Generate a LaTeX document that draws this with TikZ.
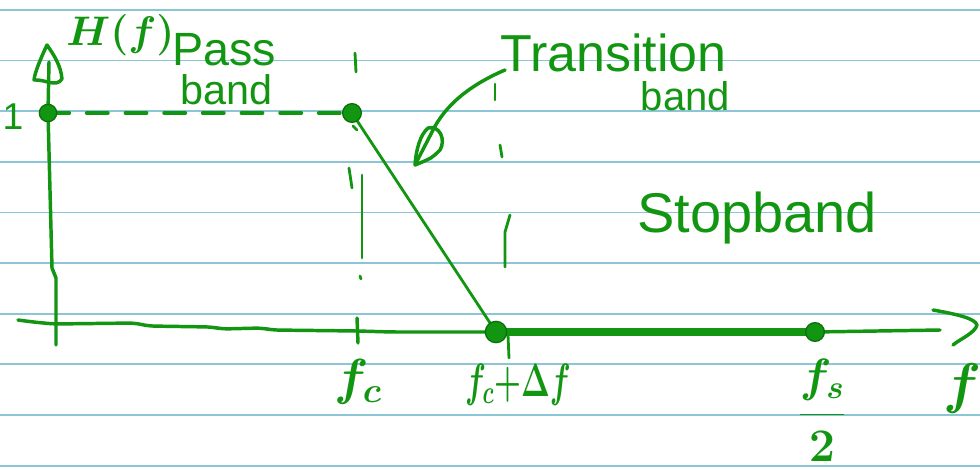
\RequirePackage{fix-cm}
\documentclass[tikz,border=0pt]{standalone}
\usepackage{amsmath}
\usepackage{fontspec}
\setmainfont{Liberation Sans}
\definecolor{ink}{RGB}{18,150,18}
\definecolor{inkdark}{RGB}{10,112,10}
\definecolor{ruling}{RGB}{140,198,214}

\begin{document}
\begin{tikzpicture}[x=0.75pt, y=-0.75pt,
  pen/.style={draw=ink, line width=2.6pt, line cap=round, line join=round},
  thinpen/.style={pen, line width=2.1pt},
  heavy/.style={pen, line width=5.5pt},
  dot/.style={circle, fill=ink, draw=inkdark, line width=1pt, inner sep=0pt, minimum size=#1},
  dot/.default=14pt,
  lbl/.style={text=ink, inner sep=0pt},
  ruled/.style={draw=ruling, line width=1.3pt}]

% sheet of ruled paper
\useasboundingbox (0,0) rectangle (980,470);
\fill[white] (0,0) rectangle (980,470);
\foreach \k in {0,...,9}
  \draw[ruled] (0,{9.8+50.65*\k}) -- (980,{9.8+50.65*\k});

% key points of the response
\coordinate (A) at (48,113);
\coordinate (B) at (352,113);
\coordinate (C) at (496,332);
\coordinate (D) at (815,332);
\coordinate (ybot) at (56,345);
\coordinate (ytop) at (49,62);
\coordinate (xstart) at (18,320);
\coordinate (xend) at (940,330);
\coordinate (xtip) at (977,325);

% vertical axis with its arrowhead
\draw[pen] (ybot) -- (56,278) -- (52,268) -- (A) -- (ytop);
\draw[pen] (47,45) .. controls (40,60) and (35,72) .. (34,80)
  .. controls (45,79) and (56,88) .. (62,79)
  .. controls (61,66) and (54,55) .. (47,45) -- cycle;

% horizontal axis with its arrowhead
\draw[pen, rounded corners=5pt] (xstart) -- (33,322) -- (54,324) -- (135,323)
  -- (148,326) -- (212,327) -- (222,329) -- (262,328) -- (272,330)
  -- (358,331) -- (392,332) -- (C);
\draw[pen] (D) -- (xend);
\draw[pen] (933,310) .. controls (955,314) and (975,318) .. (xtip)
  .. controls (975,333) and (960,339) .. (953,345);

% passband level, roll-off and stopband
\draw[pen, dash pattern=on 16pt off 13pt] (A) -- (B);
\draw[thinpen] (B) -- (C);
\draw[heavy] (C) -- (D);

% guide at f_c
\draw[thinpen] (355,53) -- (356,72);
\draw[thinpen] (353,126) -- (357,130);
\draw[thinpen] (349,168) -- (352,188);
\draw[thinpen] (362,175) -- (362,258);
\draw[thinpen] (360,276) -- (361,279);
\draw[pen] (357,318) -- (358,343);

% guide at f_c + Delta f
\draw[thinpen] (495,84) -- (495,100);
\draw[thinpen] (500,145) -- (502,157);
\draw[thinpen] (510,215) -- (505,232) -- (505,267);
\draw[thinpen] (508,335) -- (509,358);

% marked points
\node[dot=13pt] (pA) at (A) {};
\node[dot=14pt] (pB) at (B) {};
\node[dot=16pt] (pC) at (C) {};
\node[dot=14pt] (pD) at (D) {};

% labels
\node[lbl, anchor=base west, font=\fontsize{31}{31}\selectfont\boldmath] (hf) at (66,46) {$H(f)$};
\node[lbl, anchor=base west, font=\fontsize{35}{35}\selectfont] (passA) at (172,66) {Pass};
\node[lbl, anchor=base west, font=\fontsize{31}{31}\selectfont] (passB) at (180,105) {band};
\node[lbl, font=\fontsize{28}{28}\selectfont] (one) at (13,117) {1};
\node[lbl, anchor=base west, font=\fontsize{39}{39}\selectfont] (transA) at (500,72) {Transition};
\node[lbl, anchor=base east, font=\fontsize{30}{30}\selectfont] (transB) at (730,111) {band};
\node[lbl, anchor=base west, font=\fontsize{42}{42}\selectfont] (stop) at (637,233) {Stopband};
\node[lbl, font=\fontsize{38}{38}\selectfont\boldmath] (fc) at (358,382) {$f_c$};
\node[lbl, font=\fontsize{35}{35}\selectfont\boldmath] (fcd) at (518,385) {\scalebox{0.66}[1]{$f_c{+}\Delta f$}};
\node[lbl, font=\fontsize{35}{35}\selectfont\boldmath] (fs) at (822,410) {$\dfrac{f_s}{2}$};
\node[lbl, font=\fontsize{42}{42}\selectfont\boldmath] (fax) at (962,388) {$f$};

% pointer from the transition label
\coordinate (tstart) at (505,70);
\draw[pen] (tstart) .. controls (470,85) and (445,105) .. (432,132) -- (416,163);
\draw[pen] (415,165) .. controls (416,150) and (420,135) .. (428,128)
  .. controls (440,125) and (446,140) .. (440,150)
  .. controls (432,158) .. (415,165) -- cycle;
\end{tikzpicture}
\end{document}
